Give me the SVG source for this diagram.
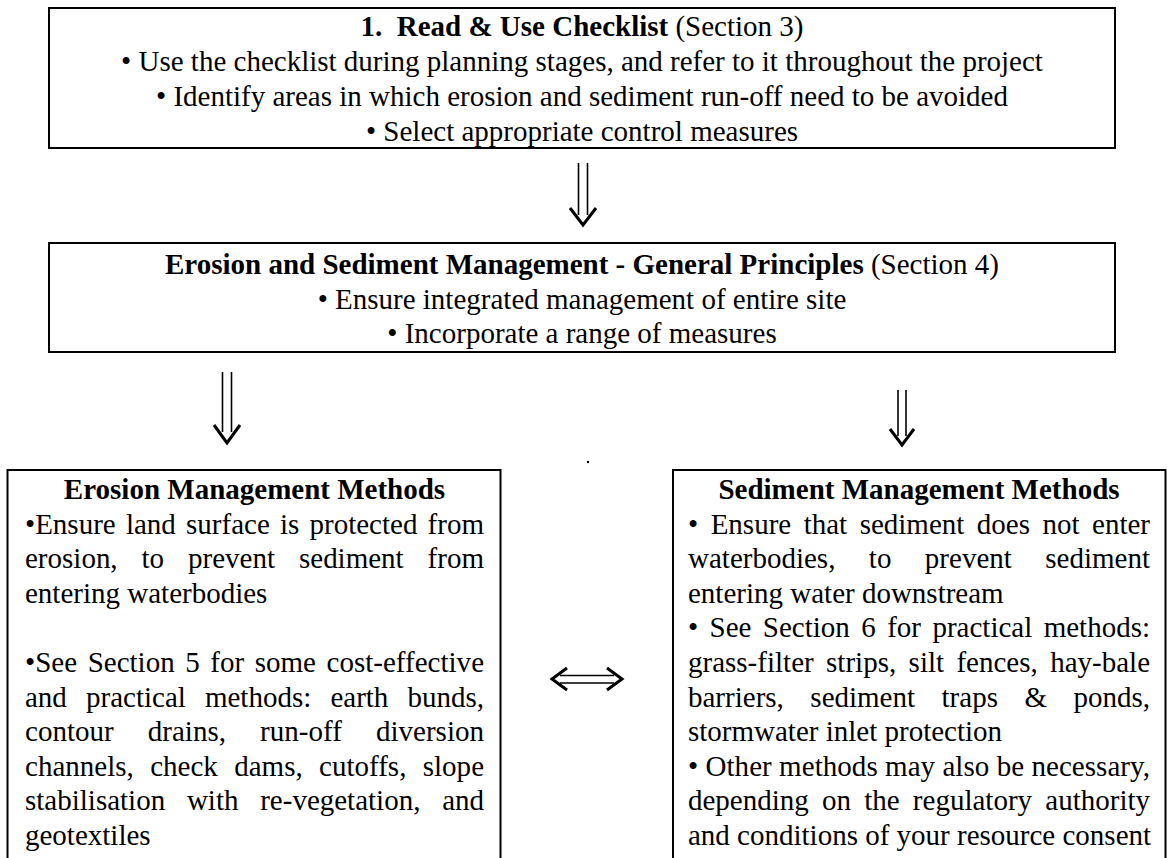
<svg xmlns="http://www.w3.org/2000/svg" width="1167" height="858" viewBox="0 0 1167 858">
<style>
.t{font-family:"Liberation Serif","Times New Roman",serif;font-size:29px;fill:#000}
.c{text-anchor:middle}
.b{font-weight:bold}
.box{fill:none;stroke:#000;stroke-width:2}
.sh{fill:none;stroke:#000;stroke-width:1.6}
.hd{fill:none;stroke:#000;stroke-width:3;stroke-linejoin:miter;stroke-linecap:butt}
</style>
<rect width="1167" height="858" fill="#fff"/>
<g id="node-checklist">
<rect class="box" x="49" y="8" width="1066" height="140"/>
<text class="t c" x="582" y="35.5"><tspan class="b">1.&#160; Read &amp; Use Checklist</tspan> (Section 3)</text>
<text class="t c" x="582" y="70.5">• Use the checklist during planning stages, and refer to it throughout the project</text>
<text class="t c" x="582" y="106">• Identify areas in which erosion and sediment run-off need to be avoided</text>
<text class="t c" x="582" y="140.5">• Select appropriate control measures</text>
</g>
<g id="node-principles">
<rect class="box" x="49" y="243" width="1066" height="109"/>
<text class="t c" x="582" y="274"><tspan class="b">Erosion and Sediment Management - General Principles</tspan> (Section 4)</text>
<text class="t c" x="582" y="308.6">• Ensure integrated management of entire site</text>
<text class="t c" x="582" y="343.2">• Incorporate a range of measures</text>
</g>
<g id="node-erosion">
<rect class="box" x="7.5" y="470" width="493" height="400"/>
<text class="t c b" x="254.5" y="499">Erosion Management Methods</text>
<text class="t" x="25" y="533.6" style="word-spacing:2.96px" textLength="459" lengthAdjust="spacing">•Ensure land surface is protected from</text>
<text class="t" x="25" y="568.2" style="word-spacing:16.7px" textLength="459" lengthAdjust="spacing">erosion, to prevent sediment from</text>
<text class="t" x="25" y="602.8">entering waterbodies</text>
<text class="t" x="25" y="672" style="word-spacing:3.28px" textLength="459" lengthAdjust="spacing">•See Section 5 for some cost-effective</text>
<text class="t" x="25" y="706.6" style="word-spacing:11.85px" textLength="459" lengthAdjust="spacing">and practical methods: earth bunds,</text>
<text class="t" x="25" y="741.2" style="word-spacing:26.8px" textLength="459" lengthAdjust="spacing">contour drains, run-off diversion</text>
<text class="t" x="25" y="775.8" style="word-spacing:9.05px" textLength="459" lengthAdjust="spacing">channels, check dams, cutoffs, slope</text>
<text class="t" x="25" y="810.4" style="word-spacing:14.5px" textLength="459" lengthAdjust="spacing">stabilisation with re-vegetation, and</text>
<text class="t" x="25" y="845">geotextiles</text>
</g>
<g id="node-sediment">
<rect class="box" x="673" y="470" width="492.5" height="400"/>
<text class="t c b" x="919" y="499">Sediment Management Methods</text>
<text class="t" x="688" y="533.6" style="word-spacing:5.23px" textLength="462" lengthAdjust="spacing">• Ensure that sediment does not enter</text>
<text class="t" x="688" y="568.2" style="word-spacing:26.2px" textLength="462" lengthAdjust="spacing">waterbodies, to prevent sediment</text>
<text class="t" x="688" y="602.8">entering water downstream</text>
<text class="t" x="688" y="637.4" style="word-spacing:4.17px" textLength="462" lengthAdjust="spacing">• See Section 6 for practical methods:</text>
<text class="t" x="688" y="672" style="word-spacing:5.15px" textLength="462" lengthAdjust="spacing">grass-filter strips, silt fences, hay-bale</text>
<text class="t" x="688" y="706.6" style="word-spacing:19.25px" textLength="462" lengthAdjust="spacing">barriers, sediment traps &amp; ponds,</text>
<text class="t" x="688" y="741.2">stormwater inlet protection</text>
<text class="t" x="688" y="775.8" textLength="462" lengthAdjust="spacing">• Other methods may also be necessary,</text>
<text class="t" x="688" y="810.4" style="word-spacing:5.95px" textLength="462" lengthAdjust="spacing">depending on the regulatory authority</text>
<text class="t" x="688" y="845">and conditions of your resource consent</text>
</g>
<g id="connectors">
<g id="arrow-top">
<path class="sh" d="M578.5 163V215M587.5 163V215"/>
<path class="hd" d="M570 208L583 225L596 208"/>
</g>
<g id="arrow-left">
<path class="sh" d="M222.5 372V432M231.5 372V432"/>
<path class="hd" d="M214 425L227 443L240 425"/>
</g>
<g id="arrow-right">
<path class="sh" d="M898 390V436M906 390V436"/>
<path class="hd" d="M890 429L902 445L914 429"/>
</g>
<g id="arrow-both">
<path class="sh" d="M560 675.5H614M560 683H614"/>
<path class="hd" d="M567 668L552 679L567 690M607 668L622 679L607 690"/>
</g>
</g>
<circle cx="588" cy="462" r="1.2" fill="#000"/>
</svg>
